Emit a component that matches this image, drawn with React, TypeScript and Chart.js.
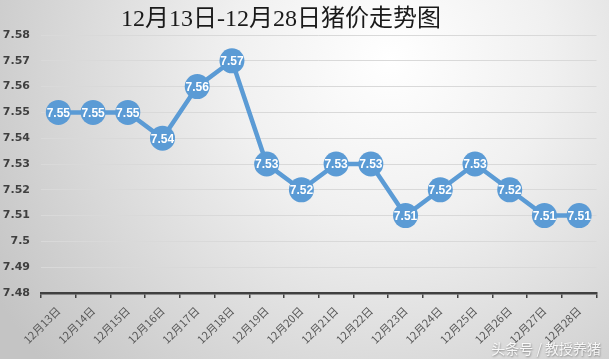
import React, { useEffect, useRef } from 'react';
import { Chart, registerables } from 'chart.js';

Chart.register(...registerables);

const chartTitle = '12月13日-12月28日猪价走势图';
const watermark = '头条号 / 教授养猪';
const categories = [
  '12月13日', '12月14日', '12月15日', '12月16日', '12月17日', '12月18日', '12月19日', '12月20日',
  '12月21日', '12月22日', '12月23日', '12月24日', '12月25日', '12月26日', '12月27日', '12月28日',
];
const prices = [7.55, 7.55, 7.55, 7.54, 7.56, 7.57, 7.53, 7.52, 7.53, 7.53, 7.51, 7.52, 7.53, 7.52, 7.51, 7.51];
const yTicks = [7.48, 7.49, 7.5, 7.51, 7.52, 7.53, 7.54, 7.55, 7.56, 7.57, 7.58];

const BLUE = '#5B9BD5';

const backgroundPlugin = {
  id: 'bg',
  beforeDraw(chart: any) {
    const { ctx, width, height } = chart;
    ctx.save();
    const g = ctx.createRadialGradient(390, 60, 0, 390, 60, 460);
    g.addColorStop(0, '#ffffff');
    g.addColorStop(0.35, '#f0f0f0');
    g.addColorStop(1, '#c4c4c4');
    ctx.fillStyle = g;
    ctx.fillRect(0, 0, width, height);
    ctx.restore();
  },
};

const labelPlugin = {
  id: 'pointLabels',
  afterDatasetsDraw(chart: any) {
    const { ctx } = chart;
    const meta = chart.getDatasetMeta(0);
    ctx.save();
    ctx.fillStyle = '#ffffff';
    ctx.font = 'bold 12px "Liberation Sans", Arial, sans-serif';
    ctx.textAlign = 'center';
    ctx.textBaseline = 'middle';
    meta.data.forEach((pt: any, i: number) => {
      ctx.fillText(String(prices[i]), pt.x, pt.y + 1);
    });
    ctx.restore();
  },
};

const decorPlugin = {
  id: 'decor',
  afterDraw(chart: any) {
    const { ctx } = chart;
    ctx.save();
    ctx.fillStyle = '#1a1a1a';
    ctx.font = '24px "Liberation Serif", "Noto Sans CJK SC", serif';
    ctx.textAlign = 'center';
    ctx.textBaseline = 'middle';
    ctx.fillText(chartTitle, 281, 20);

    ctx.font = '14px "Noto Sans CJK SC", sans-serif';
    ctx.textAlign = 'right';
    ctx.textBaseline = 'alphabetic';
    ctx.shadowColor = 'rgba(0,0,0,0.45)';
    ctx.shadowBlur = 2;
    ctx.shadowOffsetX = 0.5;
    ctx.shadowOffsetY = 0.5;
    ctx.fillStyle = 'rgba(255,255,255,0.9)';
    ctx.fillText(watermark, 601, 354);
    ctx.restore();
  },
};

export default function App() {
  const canvasRef = useRef<HTMLCanvasElement | null>(null);

  useEffect(() => {
    document.body.style.margin = '0';
    const canvas = canvasRef.current;
    if (!canvas) return;
    const chart = new Chart(canvas, {
      type: 'line',
      data: {
        labels: categories,
        datasets: [
          {
            data: prices,
            borderColor: BLUE,
            backgroundColor: BLUE,
            borderWidth: 4.5,
            pointRadius: 12.5,
            pointHoverRadius: 12.5,
            pointBackgroundColor: BLUE,
            pointBorderColor: BLUE,
            pointBorderWidth: 0,
            tension: 0,
          },
        ],
      },
      options: {
        responsive: false,
        animation: false,
        devicePixelRatio: 1,
        layout: { padding: { top: 35, right: 0, left: 0, bottom: 0 } },
        plugins: {
          legend: { display: false },
          title: { display: false },
          tooltip: { enabled: false },
        },
        scales: {
          x: {
            offset: true,
            grid: {
              offset: true,
              drawOnChartArea: false,
              drawTicks: true,
              tickLength: 5,
              color: '#404040',
              lineWidth: 1.5,
            },
            border: { display: true, color: '#404040', width: 2.5 },
            ticks: {
              autoSkip: false,
              maxRotation: 45,
              minRotation: 45,
              padding: 6,
              color: '#595959',
              font: { family: '"Noto Sans CJK SC", sans-serif', size: 11 },
            },
            afterFit(scale: any) {
              scale.height = 66;
            },
          },
          y: {
            min: 7.48,
            max: 7.58,
            afterBuildTicks(scale: any) {
              scale.ticks = yTicks.map((v) => ({ value: v }));
            },
            grid: { color: '#d9d9d9', lineWidth: 1, drawTicks: false },
            border: { display: false },
            ticks: {
              padding: 11,
              color: '#404040',
              font: { family: '"DejaVu Sans", sans-serif', size: 11, weight: 'bold' },
              callback: (v: any) => String(Number(Number(v).toFixed(2))),
            },
            afterFit(scale: any) {
              scale.width = 41;
            },
          },
        },
      },
      plugins: [backgroundPlugin, labelPlugin, decorPlugin],
    } as any);
    return () => chart.destroy();
  }, []);

  return (
    <div style={{ width: 609, height: 359 }}>
      <canvas ref={canvasRef} width={609} height={359} style={{ display: 'block' }} />
    </div>
  );
}
